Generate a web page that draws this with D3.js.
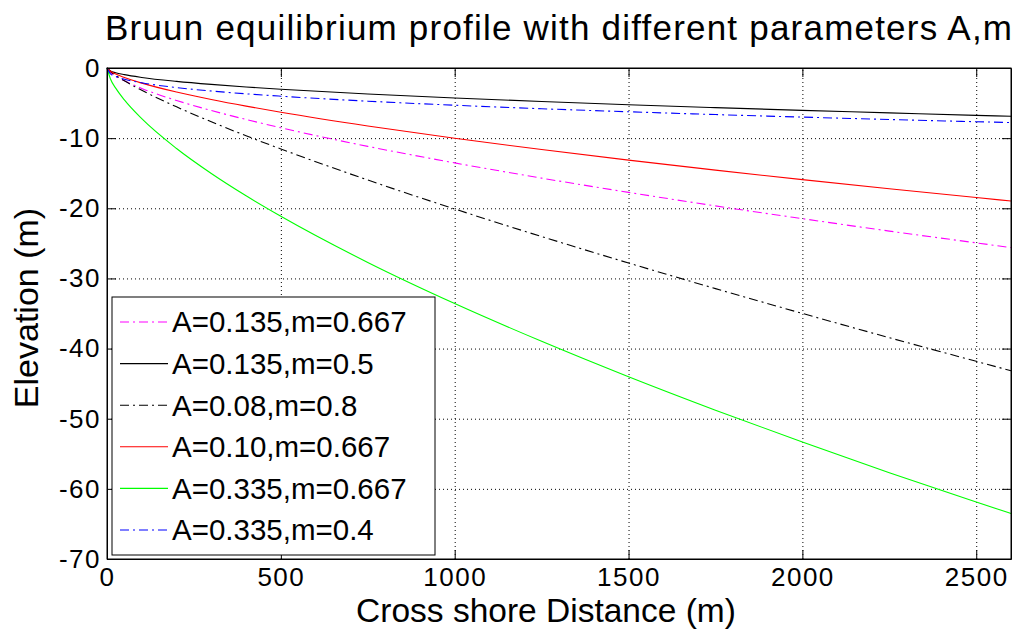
<!DOCTYPE html>
<html>
<head>
<meta charset="utf-8">
<script src="https://cdn.jsdelivr.net/npm/d3@7"></script>
<style>
body { margin: 0; background: #fff; }
text { font-family: "Liberation Sans", Arial, sans-serif; fill: #000; }
</style>
</head>
<body>
<script>
//cross shore positions (m) where the profiles were read
var distance = [0, 10, 25, 50, 100, 200, 300, 400, 500, 750, 1000, 1250, 1500, 1750, 2000, 2250, 2500, 2600];

//elevations (m)
var elevA135m667 = [0, -0.63, -1.16, -1.83, -2.91, -4.63, -6.06, -7.34, -8.52, -11.17, -13.53, -15.70, -17.73, -19.66, -21.48, -23.25, -24.93, -25.60];
var elevA135m5 = [0, -0.43, -0.68, -0.95, -1.35, -1.91, -2.34, -2.70, -3.02, -3.70, -4.27, -4.77, -5.23, -5.65, -6.04, -6.40, -6.75, -6.88];
var elevA08m8 = [0, -0.50, -1.05, -1.83, -3.18, -5.54, -7.67, -9.66, -11.54, -15.97, -20.10, -24.03, -27.80, -31.45, -34.99, -38.45, -41.82, -43.16];
var elevA10m667 = [0, -0.46, -0.86, -1.36, -2.16, -3.43, -4.49, -5.44, -6.31, -8.27, -10.02, -11.63, -13.14, -14.56, -15.92, -17.22, -18.47, -18.96];
var elevA335m667 = [0, -1.56, -2.87, -4.55, -7.23, -11.48, -15.04, -18.22, -21.14, -27.72, -33.58, -38.96, -44.01, -48.78, -53.33, -57.69, -61.87, -63.52];
var elevA335m4 = [0, -0.84, -1.21, -1.60, -2.11, -2.79, -3.28, -3.68, -4.02, -4.73, -5.31, -5.81, -6.24, -6.64, -7.00, -7.34, -7.66, -7.78];

var seriesNames = ["A=0.135,m=0.667", "A=0.135,m=0.5", "A=0.08,m=0.8", "A=0.10,m=0.667", "A=0.335,m=0.667", "A=0.335,m=0.4"];
var xTicks = [0, 500, 1000, 1500, 2000, 2500];
var yTicks = [0, -10, -20, -30, -40, -50, -60, -70];

var seriesData = [elevA135m667, elevA135m5, elevA08m8, elevA10m667, elevA335m667, elevA335m4];
var seriesColor = ["#ff00ff", "#000000", "#000000", "#ff0000", "#00ff00", "#0000ff"];
var seriesDash = ["9,4,2,4", null, "9,4,2,4", null, null, "9,4,2,4"];

//frame
var width = 1017,
    height = 633,
    margin = {left: 107, right: 6, top: 68, bottom: 74},
    plotW = width - margin.left - margin.right,
    plotH = height - margin.top - margin.bottom;

var svg = d3.select("body")
    .append("svg")
    .attr("width", width)
    .attr("height", height);

svg.append("rect")
    .attr("width", width)
    .attr("height", height)
    .attr("fill", "#fff");

var g = svg.append("g")
    .attr("transform", "translate(" + margin.left + "," + margin.top + ")");

var x = d3.scaleLinear().domain([0, 2600]).range([0, plotW]);
var y = d3.scaleLinear().domain([-70, 0]).range([plotH, 0]);

//dotted grid
g.append("g")
    .attr("class", "grid")
    .attr("transform", "translate(0," + plotH + ")")
    .call(d3.axisBottom(x).tickValues(xTicks).tickSize(-plotH).tickFormat(""));
g.append("g")
    .attr("class", "grid")
    .call(d3.axisLeft(y).tickValues(yTicks).tickSize(-plotW).tickFormat(""));
g.selectAll(".grid .domain").remove();
g.selectAll(".grid line")
    .attr("stroke", "#000")
    .attr("stroke-width", 1)
    .attr("stroke-dasharray", "1,3");

//curves
var line = d3.line()
    .x(function (d, i) { return x(distance[i]); })
    .y(function (d) { return y(d); })
    .curve(d3.curveMonotoneX);

g.selectAll(".profile")
    .data(seriesData)
    .enter()
    .append("path")
    .attr("class", "profile")
    .attr("d", line)
    .attr("fill", "none")
    .attr("stroke", function (d, i) { return seriesColor[i]; })
    .attr("stroke-width", 1.1)
    .attr("stroke-dasharray", function (d, i) { return seriesDash[i]; });

//axes, ticks pointing inward
var fmt = function (d) { return String(d); };
g.append("g")
    .attr("transform", "translate(0," + plotH + ")")
    .call(d3.axisBottom(x).tickValues(xTicks).tickSizeInner(-9).tickSizeOuter(0).tickPadding(9).tickFormat(fmt));
g.append("g")
    .call(d3.axisLeft(y).tickValues(yTicks).tickSizeInner(-9).tickSizeOuter(0).tickPadding(6).tickFormat(fmt));
g.append("g")
    .call(d3.axisTop(x).tickValues(xTicks).tickSizeInner(-9).tickSizeOuter(0).tickFormat(""));
g.append("g")
    .attr("transform", "translate(" + plotW + ",0)")
    .call(d3.axisRight(y).tickValues(yTicks).tickSizeInner(-9).tickSizeOuter(0).tickFormat(""));

g.selectAll(".domain").attr("stroke", "#000");
g.selectAll(".tick line").filter(function () { return !this.closest(".grid"); }).attr("stroke", "#000");
g.selectAll(".tick text")
    .style("font-family", "'Liberation Sans', Arial, sans-serif")
    .style("font-size", "26px")
    .style("letter-spacing", "1.5px")
    .attr("fill", "#000");

//box
g.append("rect")
    .attr("width", plotW)
    .attr("height", plotH)
    .attr("fill", "none")
    .attr("stroke", "#000")
    .attr("stroke-width", 1);

//title and axis labels
svg.append("text")
    .attr("x", 105)
    .attr("y", 40)
    .attr("textLength", 907)
    .attr("lengthAdjust", "spacing")
    .style("font-size", "35px")
    .text("Bruun equilibrium profile with different parameters A,m");

svg.append("text")
    .attr("x", 546)
    .attr("y", 622)
    .attr("text-anchor", "middle")
    .style("font-size", "33.5px")
    .text("Cross shore Distance (m)");

svg.append("text")
    .attr("transform", "translate(38,308) rotate(-90)")
    .attr("text-anchor", "middle")
    .style("font-size", "34px")
    .text("Elevation (m)");

//legend
var legend = svg.append("g")
    .attr("transform", "translate(112,297)");

legend.append("rect")
    .attr("width", 323)
    .attr("height", 258)
    .attr("fill", "#fff")
    .attr("stroke", "#000")
    .attr("stroke-width", 1);

var rows = legend.selectAll(".legendRow")
    .data(seriesNames)
    .enter()
    .append("g")
    .attr("class", "legendRow")
    .attr("transform", function (d, i) { return "translate(0," + (25 + i * 41.6) + ")"; });

rows.append("line")
    .attr("x1", 8)
    .attr("x2", 56)
    .attr("stroke", function (d, i) { return seriesColor[i]; })
    .attr("stroke-width", 1.1)
    .attr("stroke-dasharray", function (d, i) { return seriesDash[i]; });

rows.append("text")
    .attr("x", 60)
    .attr("dy", "0.35em")
    .style("font-size", "29.5px")
    .text(function (d) { return d; });
</script>
</body>
</html>
